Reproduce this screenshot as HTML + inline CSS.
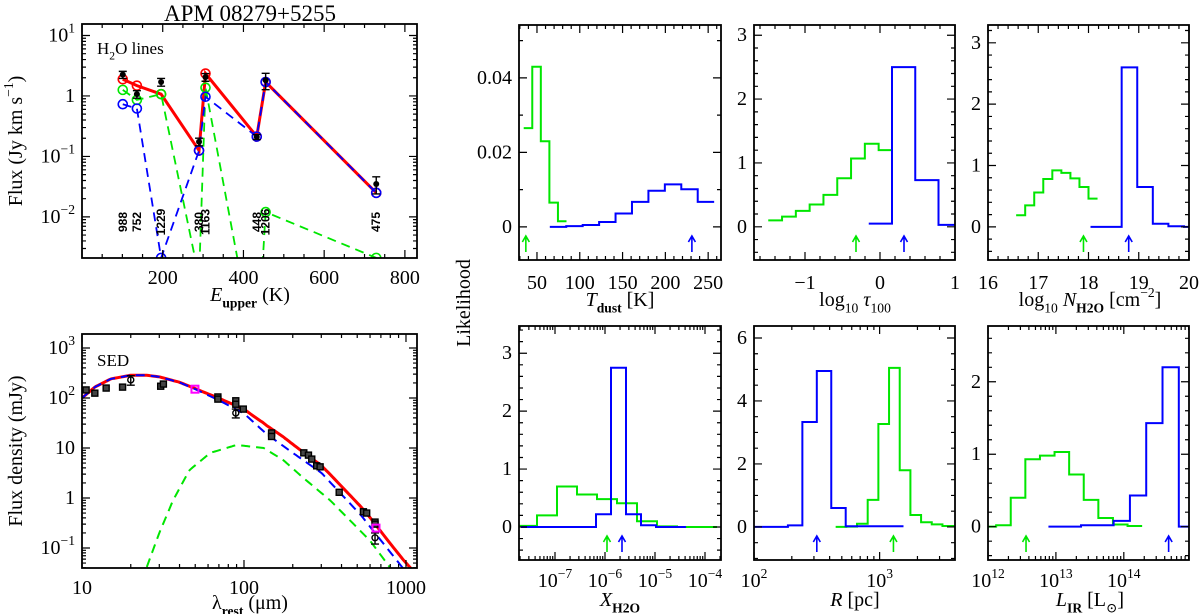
<!DOCTYPE html>
<html><head><meta charset="utf-8">
<style>
html,body{margin:0;padding:0;background:#fff;}
svg{display:block;}
text{font-family:"Liberation Serif","DejaVu Serif",serif;fill:#000;}
text.lbl{font-family:"Liberation Sans","DejaVu Sans",sans-serif;}
</style></head>
<body>
<svg id="fig" width="1200" height="614" viewBox="0 0 1200 614" xmlns="http://www.w3.org/2000/svg">
<defs id="defs"></defs>
</svg>
<script>
// ---------- DATA ----------
const lineLabels=['988','752','1229','380','1163','448','1206','475'];
const eUpper=[101,136,196,290,306,433,455,729];
const obsFlux=[2.25,1.07,1.7,0.175,2.05,0.21,1.82,0.035];
const obsErr=[0.3,0.15,0.25,0.025,0.3,0.02,0.55,0.011];
const redModel=[1.89,1.48,1.07,0.125,2.35,0.213,1.7,0.025];
const greenModel=[1.26,0.86,1.07,0.001,1.37,0.00004,0.012,0.0021];
const blueModel=[0.73,0.62,0.0021,0.125,0.97,0.213,1.7,0.025];
const sqLam=[10.6,12,14.1,17.8,30.6,31.8,69,69,89,89,99,148,148,234,250,262,281,295,387,546,572,644,644];
const sqFlux=[145,125,158,165,172,190,105,95,88,75,60,20,17,8,7.2,6,4.4,4.2,1.3,0.53,0.5,0.33,0.3];
const ciLam=[20,89,644];
const ciFlux=[230,50,0.16];
const ciErr=[50,10,0.04];
const mgLam=[49.8,653];
const mgFlux=[150,0.25];
const warmLam=[10,12,15,20,25,30,40,50,70,100,138,200,300,525,955,1200];
const warmFlux=[100,165,240,285,285,265,205,150,90,49,19,8,3.2,0.46,0.04,0.018];
const coldLam=[25,30,36.5,46,62,90,132,174,230,340,450,600,800,1200];
const coldFlux=[0.04,0.2,0.9,3.6,8,11.5,10,5.8,2.6,0.9,0.36,0.14,0.04,0.008];
const tdGreenC=[39.5,49.5,59.5,69.5,79.5];
const tdGreenV=[0.0265,0.043,0.023,0.0065,0.0015];
const tdBlueC=[74.6,93.8,113,132.2,151.4,170.6,189.8,209,228.2,247.4];
const tdBlueV=[0,0.0002,0.0005,0.0013,0.0036,0.0067,0.0097,0.0114,0.0101,0.0067];
const tdArrows=[37,231];
const tauGreenC=[-1.398,-1.214,-1.03,-0.846,-0.662,-0.478,-0.294,-0.11,0.074];
const tauGreenV=[0.1,0.16,0.25,0.35,0.5,0.76,1.07,1.3,1.2];
const tauBlueC=[0.005,0.315,0.625,0.935];
const tauBlueV=[0.05,2.5,0.73,0.03];
const tauArrows=[-0.32,0.32];
const nGreenC=[16.65,16.83,17.01,17.19,17.37,17.55,17.73,17.91,18.09];
const nGreenV=[0.19,0.35,0.56,0.78,0.92,0.88,0.79,0.65,0.46];
const nBlueC=[18.195,18.505,18.815,19.125,19.435,19.745,20.055];
const nBlueV=[0,0,2.6,0.65,0.05,0.01,0];
const nArrows=[17.9,18.8];
const xGreenC=[-7.56,-7.16,-6.76,-6.36,-5.96,-5.56,-5.16,-4.76,-4.36,-3.96];
const xGreenV=[0.02,0.2,0.7,0.56,0.48,0.41,0.1,0.01,0,0];
const xBlueC=[-7.53,-7.23,-6.93,-6.63,-6.33,-6.03,-5.73,-5.43,-5.13,-4.83,-4.53];
const xBlueV=[0,0,0,0,0,0.22,2.75,0.22,0.03,0,0];
const xArrows=[-5.96,-5.66];
const rBlueC=[1.9825,2.0975,2.2125,2.3275,2.4425,2.5575,2.6725,2.7875,2.9025,3.0175,3.1325];
const rBlueV=[0,0,0,0.05,3.33,4.95,0.6,0.02,0.02,0.02,0.02];
const rGreenC=[2.6925,2.7775,2.8625,2.9475,3.0325,3.1175,3.2025,3.2875,3.3725,3.4575,3.5425,3.6275];
const rGreenV=[0,0.01,0.1,0.86,3.27,5.05,1.8,0.38,0.15,0.08,0.03,0.02];
const rArrows=[3.11,2.5];
const lGreenC=[12.0125,12.2275,12.4425,12.6575,12.8725,13.0875,13.3025,13.5175,13.7325,13.9475,14.1625];
const lGreenV=[0,0.02,0.4,0.93,0.98,1.03,0.72,0.37,0.12,0.03,0.01];
const lBlueC=[13.01,13.25,13.49,13.73,13.97,14.21,14.45,14.69,14.93];
const lBlueV=[0,0,0.02,0.02,0.08,0.43,1.43,2.2,0];
const lArrows=[12.56,14.66];

// ---------- HELPERS ----------
const NS='http://www.w3.org/2000/svg';
const svg=document.getElementById('fig');
const defs=document.getElementById('defs');
function el(tag,attrs,parent){const e=document.createElementNS(NS,tag);for(const k in attrs)e.setAttribute(k,attrs[k]);(parent||svg).appendChild(e);return e;}
const GREEN='#00e600',BLUE='#0000ff',RED='#ff0000';
let clipN=0;
function rich(parent,x,y,parts,size,anchor,extra){
  const t=el('text',Object.assign({x:x,y:y,'font-size':size,'text-anchor':anchor||'middle'},extra||{}),parent);
  let shift=0;
  parts.forEach(p=>{
    const s=document.createElementNS(NS,'tspan');
    let target=0,fs=size;
    if(p[1]==='sup'){target=-0.45*size;fs=size*0.68;}
    if(p[1]==='sub'){target=0.32*size;fs=size*0.68;}
    s.setAttribute('dy',(target-shift).toFixed(2));shift=target;
    s.setAttribute('font-size',fs);
    if(p[1]==='it')s.setAttribute('font-style','italic');
    if(p[2])s.setAttribute('font-weight','bold');
    s.textContent=p[0];t.appendChild(s);
  });
  return t;
}
function tickList(r,isLog,maj,mn){
  const out=[];
  if(isLog){
    for(let d=Math.floor(r[0]);d<=Math.ceil(r[1]);d++){
      out.push({u:d,m:true});
      for(let k=2;k<10;k++)out.push({u:d+Math.log10(k),m:false});
    }
  }else{
    const n0=Math.ceil(r[0]/mn-1e-6),n1=Math.floor(r[1]/mn+1e-6);
    for(let i=n0;i<=n1;i++){const u=i*mn;const q=u/maj;out.push({u:u,m:Math.abs(q-Math.round(q))<1e-6});}
  }
  return out.filter(t=>t.u>=r[0]-1e-9&&t.u<=r[1]+1e-9);
}
function axes(name,b,xr,yr,xl,yl,xt,yt){
  const g=el('g',{});
  
  
  const ux=u=>b[0]+(u-xr[0])/(xr[1]-xr[0])*(b[2]-b[0]);
  const uy=u=>b[3]-(u-yr[0])/(yr[1]-yr[0])*(b[3]-b[1]);
  const X=v=>ux(xl===1?Math.log10(v):v);
  const Y=v=>uy(yl===1?Math.log10(Math.max(v,1e-30)):v);
  const id='clip'+(clipN++);
  const cp=el('clipPath',{id:id},defs);
  el('rect',{x:b[0],y:b[1],width:b[2]-b[0],height:b[3]-b[1]},cp);
  const plot=el('g',{'clip-path':'url(#'+id+')'},g);
  
  
  const tg=el('g',{stroke:'#000','stroke-width':1.2},g);
  
  
  let d='';
  tickList(xr,xl>0,xt[0],xt[1]).forEach(t=>{const x=ux(t.u),L=t.m?8:4;d+=`M${x} ${b[3]}v${-L}M${x} ${b[1]}v${L}`;});
  tickList(yr,yl>0,yt[0],yt[1]).forEach(t=>{const y=uy(t.u),L=t.m?8:4;d+=`M${b[0]} ${y}h${L}M${b[2]} ${y}h${-L}`;});
  el('path',{d:d,fill:'none'},tg);
  const fr=el('rect',{x:b[0],y:b[1],width:b[2]-b[0],height:b[3]-b[1],fill:'none',stroke:'#000','stroke-width':1.8},g);
  
  
  return {g,plot,ux,uy,X,Y,b};
}
function ylabels(ax,list,name){
  list.forEach(l=>{const t=rich(ax.g,ax.b[0]-7,ax.uy(l[0])+6,l[1],20,'end');
    
    });
}
function xlabels(ax,list,y,name){
  list.forEach(l=>{const t=rich(ax.g,ax.ux(l[0]),y,l[1],20,'middle');
    
    });
}
function hist(ax,centers,vals,color,name){
  const w=centers[1]-centers[0];
  let d=`M${ax.ux(centers[0]-w/2)} ${ax.uy(vals[0])}`;
  centers.forEach((c,i)=>{ if(i>0)d+=`V${ax.uy(vals[i])}`; d+=`H${ax.ux(c+w/2)}`; });
  const p=el('path',{d:d,fill:'none',stroke:color,'stroke-width':2},ax.plot);
  
  
}
function arrows(ax,vals,name){
  const cols=[GREEN,BLUE];
  vals.forEach((v,i)=>{
    const x=ax.ux(v),yb=ax.b[3]-8,yt=ax.b[3]-24;
    const a=el('path',{d:`M${x} ${yb}V${yt}M${x-3.5} ${yt+6}L${x} ${yt}L${x+3.5} ${yt+6}`,fill:'none',stroke:cols[i],'stroke-width':1.6},ax.plot);
    
    
  });
}
function smoothPath(pts){
  let d=`M${pts[0][0]} ${pts[0][1]}`;
  for(let i=0;i<pts.length-1;i++){
    const p0=pts[Math.max(i-1,0)],p1=pts[i],p2=pts[i+1],p3=pts[Math.min(i+2,pts.length-1)];
    const c1=[p1[0]+(p2[0]-p0[0])/6,p1[1]+(p2[1]-p0[1])/6];
    const c2=[p2[0]-(p3[0]-p1[0])/6,p2[1]-(p3[1]-p1[1])/6];
    d+=`C${c1[0]} ${c1[1]} ${c2[0]} ${c2[1]} ${p2[0]} ${p2[1]}`;
  }
  return d;
}
function interpLog(lams,fl,l){
  if(l<lams[0]||l>lams[lams.length-1])return 0;
  for(let i=0;i<lams.length-1;i++){
    if(l>=lams[i]&&l<=lams[i+1]){
      const t=(Math.log10(l)-Math.log10(lams[i]))/(Math.log10(lams[i+1])-Math.log10(lams[i]));
      return Math.pow(10,Math.log10(fl[i])+t*(Math.log10(fl[i+1])-Math.log10(fl[i])));
    }
  }
  return 0;
}

// ---------- TITLE ----------
const title=el('text',{x:250,y:21,'font-size':23,'text-anchor':'middle'});
title.textContent='APM 08279+5255';



// ---------- H2O PANEL ----------
const h=axes('h2o-lines-panel',[82,24,417,258],[0,830],[-2.68,1.19],0,1,[200,50],[1,1]);
ylabels(h,[[1,[['10',''],['1','sup']]],[0,[['1','']]],[-1,[['10',''],['−1','sup']]],[-2,[['10',''],['−2','sup']]]],'h2o-y');
xlabels(h,[[200,[['200','']]],[400,[['400','']]],[600,[['600','']]],[800,[['800','']]]],284,'h2o-x');
const hx=rich(h.g,250,301,[['E','it'],['upper','sub',true],[' (K)','']],20,'middle');


const hy=rich(h.g,0,0,[['Flux (Jy km s',''],['−1','sup'],[')','']],20,'middle',{transform:'translate(22,141) rotate(-90)'});


const hl=rich(h.g,97,54,[['H',''],['2','sub'],['O lines','']],17,'start');


lineLabels.forEach((s,i)=>{
  const t=el('text',{x:0,y:0,'font-size':12,'font-weight':'bold','text-anchor':'middle','class':'lbl',transform:`translate(${h.X(eUpper[i])+4},222) rotate(-90)`},h.g);
  t.textContent=s;
  
  
});
function modelLine(vals,color,dash,w,name){
  const d=vals.map((v,i)=>(i?'L':'M')+h.X(eUpper[i])+' '+h.Y(v)).join('');
  const p=el('path',{d:d,fill:'none',stroke:color,'stroke-width':w},h.plot);
  if(dash)p.setAttribute('stroke-dasharray',dash);
  
  
  vals.forEach((v,i)=>{
    const c=el('circle',{cx:h.X(eUpper[i]),cy:h.Y(v),r:4.5,fill:'none',stroke:color,'stroke-width':1.6},h.plot);
    
    
  });
}
modelLine(redModel,RED,null,3,'total-model');
modelLine(greenModel,GREEN,'9,6',1.8,'cold-component');
modelLine(blueModel,BLUE,'9,6',1.8,'warm-component');
obsFlux.forEach((v,i)=>{
  const x=h.X(eUpper[i]);
  const e=el('path',{d:`M${x} ${h.Y(v+obsErr[i])}V${h.Y(v-obsErr[i])}M${x-4} ${h.Y(v+obsErr[i])}h8M${x-4} ${h.Y(v-obsErr[i])}h8`,stroke:'#000','stroke-width':1.4,fill:'none'},h.plot);
  
  
  const c=el('circle',{cx:x,cy:h.Y(v),r:3,fill:'#000'},h.plot);
  
  
});

// ---------- SED PANEL ----------
const s=axes('sed-panel',[82,334,417,568],[1,3.068],[-1.4,3.28],1,1,[1,1],[1,1]);
ylabels(s,[[3,[['10',''],['3','sup']]],[2,[['10',''],['2','sup']]],[1,[['10','']]],[0,[['1','']]],[-1,[['10',''],['−1','sup']]]],'sed-y');
xlabels(s,[[1,[['10','']]],[2,[['100','']]],[3,[['1000','']]]],594,'sed-x');
const sx=rich(s.g,250,609,[['λ',''],['rest','sub',true],[' (μm)','']],20,'middle');


const sy=rich(s.g,0,0,[['Flux density (mJy)','']],20,'middle',{transform:'translate(22,451) rotate(-90)'});


const sl=rich(s.g,97,366,[['SED','']],17,'start');


const gridL=[];
for(let u=1;u<=3.08;u+=0.02)gridL.push(Math.pow(10,u));
function curve(fn,color,dash,w,name){
  const pts=gridL.map(l=>{const v=fn(l);return [s.X(l),s.Y(v>0?v:1e-9)];}).filter(p=>p[1]<700);
  const p=el('path',{d:smoothPath(pts),fill:'none',stroke:color,'stroke-width':w},s.plot);
  if(dash)p.setAttribute('stroke-dasharray',dash);
  
  
}
curve(l=>interpLog(coldLam,coldFlux,l),GREEN,'9,6',2,'sed-cold-component');
curve(l=>interpLog(warmLam,warmFlux,l)+interpLog(coldLam,coldFlux,l),RED,null,3,'sed-total-model');
curve(l=>interpLog(warmLam,warmFlux,l),BLUE,'9,6',2,'sed-warm-component');
sqLam.forEach((l,i)=>{
  const r=el('rect',{x:s.X(l)-3,y:s.Y(sqFlux[i])-3,width:6,height:6,fill:'#444',stroke:'#000','stroke-width':1.4},s.plot);
  
  
});
ciLam.forEach((l,i)=>{
  const x=s.X(l),v=ciFlux[i],e=ciErr[i];
  const p=el('path',{d:`M${x} ${s.Y(v+e)}V${s.Y(v-e)}M${x-4} ${s.Y(v+e)}h8M${x-4} ${s.Y(v-e)}h8`,stroke:'#000','stroke-width':1.4,fill:'none'},s.plot);
  
  
  const c=el('circle',{cx:x,cy:s.Y(v),r:3,fill:'none',stroke:'#000','stroke-width':1.4},s.plot);
  
  
});
mgLam.forEach((l,i)=>{
  const r=el('rect',{x:s.X(l)-3.5,y:s.Y(mgFlux[i])-3.5,width:7,height:7,fill:'none',stroke:'#ff00ff','stroke-width':2},s.plot);
  
  
});

// ---------- LIKELIHOOD PANELS ----------
const lk=rich(svg,0,0,[['Likelihood','']],20,'middle',{transform:'translate(470,303) rotate(-90)'});



const pT=axes('tdust-panel',[519,25,721,260],[29,265],[-0.0089,0.0542],0,0,[50,10],[0.02,0.01]);
ylabels(pT,[[0,[['0','']]],[0.02,[['0.02','']]],[0.04,[['0.04','']]]],'tdust-y');
xlabels(pT,[[50,[['50','']]],[100,[['100','']]],[150,[['150','']]],[200,[['200','']]],[250,[['250','']]]],289,'tdust-x');
hist(pT,tdGreenC,tdGreenV,GREEN,'tdust-cold-histogram');
hist(pT,tdBlueC,tdBlueV,BLUE,'tdust-warm-histogram');
arrows(pT,tdArrows,'tdust');
let t1=rich(pT.g,620,306,[['T','it'],['dust','sub',true],[' [K]','']],20,'middle');



const pTau=axes('tau-panel',[754,25,955,260],[-1.68,1.0],[-0.52,3.16],0,0,[1,0.2],[1,0.2]);
ylabels(pTau,[[0,[['0','']]],[1,[['1','']]],[2,[['2','']]],[3,[['3','']]]],'tau-y');
xlabels(pTau,[[-1,[['−1','']]],[0,[['0','']]],[1,[['1','']]]],289,'tau-x');
hist(pTau,tauGreenC,tauGreenV,GREEN,'tau-cold-histogram');
hist(pTau,tauBlueC,tauBlueV,BLUE,'tau-warm-histogram');
arrows(pTau,tauArrows,'tau');
let t2=rich(pTau.g,855,306,[['log',''],['10','sub'],[' τ','it'],['100','sub']],20,'middle');



const pN=axes('nh2o-panel',[988,25,1189,260],[16,20],[-0.54,3.29],0,0,[1,0.2],[1,0.2]);
ylabels(pN,[[0,[['0','']]],[1,[['1','']]],[2,[['2','']]],[3,[['3','']]]],'nh2o-y');
xlabels(pN,[[16,[['16','']]],[17,[['17','']]],[18,[['18','']]],[19,[['19','']]],[20,[['20','']]]],289,'nh2o-x');
hist(pN,nGreenC,nGreenV,GREEN,'nh2o-cold-histogram');
hist(pN,nBlueC,nBlueV,BLUE,'nh2o-warm-histogram');
arrows(pN,nArrows,'nh2o');
let t3=rich(pN.g,1090,306,[['log',''],['10','sub'],[' N','it'],['H2O','sub',true],[' [cm',''],['−2','sup'],[']','']],20,'middle');



const pX=axes('xh2o-panel',[519,326,721,560],[-7.72,-3.68],[-0.57,3.47],2,0,[1,1],[1,0.2]);
ylabels(pX,[[0,[['0','']]],[1,[['1','']]],[2,[['2','']]],[3,[['3','']]]],'xh2o-y');
xlabels(pX,[[-7,[['10',''],['−7','sup']]],[-6,[['10',''],['−6','sup']]],[-5,[['10',''],['−5','sup']]],[-4,[['10',''],['−4','sup']]]],587,'xh2o-x');
hist(pX,xGreenC,xGreenV,GREEN,'xh2o-cold-histogram');
hist(pX,xBlueC,xBlueV,BLUE,'xh2o-warm-histogram');
arrows(pX,xArrows,'xh2o');
let t4=rich(pX.g,620,606,[['X','it'],['H2O','sub',true]],20,'middle');



const pR=axes('radius-panel',[754,326,955,560],[2,3.6],[-1.05,6.38],2,0,[1,1],[2,0.5]);
ylabels(pR,[[0,[['0','']]],[2,[['2','']]],[4,[['4','']]],[6,[['6','']]]],'radius-y');
xlabels(pR,[[2,[['10',''],['2','sup']]],[3,[['10',''],['3','sup']]]],587,'radius-x');
hist(pR,rGreenC,rGreenV,GREEN,'radius-cold-histogram');
hist(pR,rBlueC,rBlueV,BLUE,'radius-warm-histogram');
arrows(pR,rArrows,'radius');
let t5=rich(pR.g,855,606,[['R','it'],[' [pc]','']],20,'middle');



const pL=axes('lir-panel',[988,326,1189,560],[12,14.96],[-0.46,2.77],2,0,[1,1],[1,0.2]);
ylabels(pL,[[0,[['0','']]],[1,[['1','']]],[2,[['2','']]]],'lir-y');
xlabels(pL,[[12,[['10',''],['12','sup']]],[13,[['10',''],['13','sup']]],[14,[['10',''],['14','sup']]]],587,'lir-x');
hist(pL,lGreenC,lGreenV,GREEN,'lir-cold-histogram');
hist(pL,lBlueC,lBlueV,BLUE,'lir-warm-histogram');
arrows(pL,lArrows,'lir');
let t6=rich(pL.g,1090,606,[['L','it'],['IR','sub',true],[' [L',''],['⊙','sub'],[']','']],20,'middle');


</script>
</body></html>
